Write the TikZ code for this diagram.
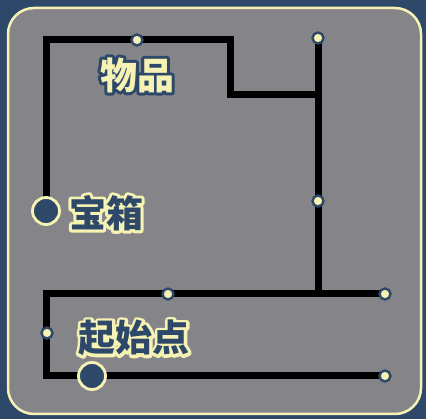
\documentclass[tikz,border=0pt]{standalone}
\usepackage{fontspec}
\newfontfamily\cjk{Noto Sans CJK SC}
\definecolor{navy}{HTML}{2E486A}
\definecolor{cream}{HTML}{F6F2B4}
\definecolor{board}{HTML}{858589}
% text with a drawn rim: #1 rim colour, #2 fill colour, #3 text
\newcommand\rimtext[3]{\leavevmode\rlap{\color{#1}\special{pdf:literal direct 1 Tr 6 w 1 j}#3\special{pdf:literal direct 0 Tr}}{\color{#2}#3}}
\begin{document}
\begin{tikzpicture}[x=1pt,y=-1pt,
    dot/.style={circle, fill=cream, draw=navy, line width=2.4pt, inner sep=0pt, minimum size=11pt},
    bigdot/.style={circle, fill=navy, draw=cream, line width=2.8pt, inner sep=0pt, minimum size=27pt},
    wall/.style={line width=7pt, line join=miter},
    lbl/.style={font=\cjk\bfseries\fontsize{37}{37}\selectfont, inner sep=0pt}
  ]
  \useasboundingbox[fill=navy] (0,0) rectangle (426,419);
  \draw[cream, fill=board, line width=2.5pt, rounded corners=26pt] (8,8) rectangle (421,414);
  % corners of the walls
  \coordinate (tl) at (46,40);
  \coordinate (tm) at (230,40);
  \coordinate (mm) at (230,95);
  \coordinate (mr) at (318,95);
  \coordinate (tr) at (318,38);
  \coordinate (chest) at (46,211);
  \coordinate (item) at (137,40);
  \coordinate (side) at (318,201);
  \coordinate (br) at (318,294);
  \coordinate (bl) at (46,294);
  \coordinate (gate) at (168,294);
  \coordinate (rt) at (385,294);
  \coordinate (lm) at (47,333);
  \coordinate (ll) at (46,376);
  \coordinate (start) at (92,376);
  \coordinate (rb) at (385,376);
  % walls
  \draw[wall] (chest) -- (tl) -- (tm) -- (mm) -- (mr);
  \draw[wall] (tr) -- (br);
  \draw[wall] (rt) -- (bl) -- (ll) -- (rb);
  % dots
  \foreach \p in {item,tr,side,gate,rt,lm,rb} {
    \node[dot] (d-\p) at (\p) {};
  }
  \node[bigdot] (n-chest) at (chest) {};
  \node[bigdot] (n-start) at (start) {};
  % labels
  \node[lbl] (l-item) at (137,75) {\rimtext{navy}{cream}{物品}};
  \node[lbl] (l-chest) at (106,213) {\rimtext{cream}{navy}{宝箱}};
  \node[lbl] (l-start) at (134,338) {\rimtext{cream}{navy}{起始点}};
\end{tikzpicture}
\end{document}
